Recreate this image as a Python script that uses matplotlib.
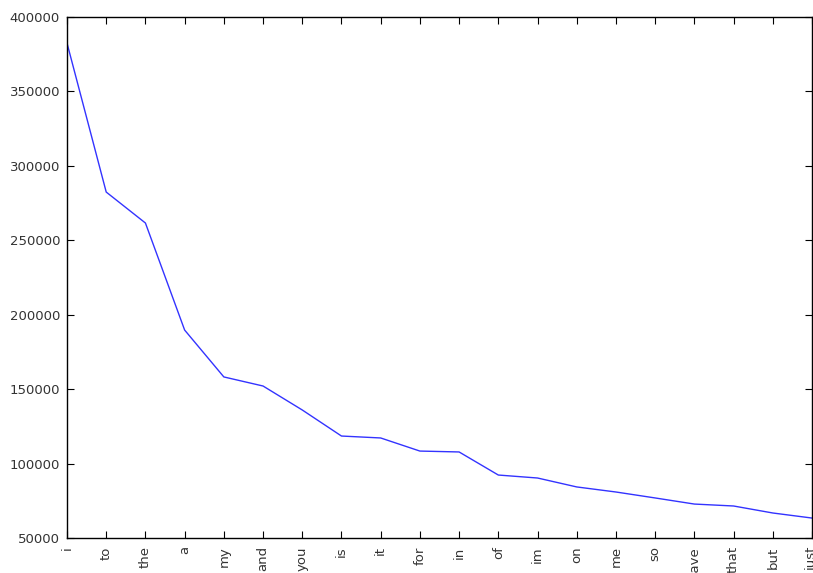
import numpy as np
import matplotlib
matplotlib.use("Agg")
import matplotlib.pyplot as plt

# word frequency counts
words = ['i', 'to', 'the', 'a', 'my', 'and', 'you', 'is', 'it', 'for',
         'in', 'of', 'im', 'on', 'me', 'so', 'have', 'that', 'but', 'just']
counts = [382500, 282400, 261600, 189700, 158200, 152100, 136000, 118500,
          117200, 108400, 107800, 92300, 90300, 84300, 80900, 76900,
          72800, 71500, 66800, 63400]
yticks = [50000, 100000, 150000, 200000, 250000, 300000, 350000, 400000]

plt.rcParams['font.family'] = 'DejaVu Sans'
plt.rcParams['font.size'] = 9.5

fig = plt.figure(figsize=(8.13, 5.73), dpi=100)
ax = fig.add_axes([67 / 813, 35 / 573, (812 - 67) / 813, (538 - 17) / 573])

x = np.arange(len(words))
ax.plot(x, counts, color='#0000ff', linewidth=1.0, alpha=0.8)

ax.set_xlim(0, len(words) - 1)
ax.set_ylim(50000, 400000)
ax.set_yticks(yticks)
ax.set_yticklabels([str(v) for v in yticks])
ax.set_xticks(x)
ax.set_xticklabels(words, rotation=90)

ax.tick_params(direction='in', top=True, right=True, length=5, width=0.8,
               colors='black', labelcolor='#333333', pad=5)
ax.tick_params(axis='x', pad=6)
for s in ax.spines.values():
    s.set_linewidth(1.0)

fig.savefig("out.png", dpi=100)
